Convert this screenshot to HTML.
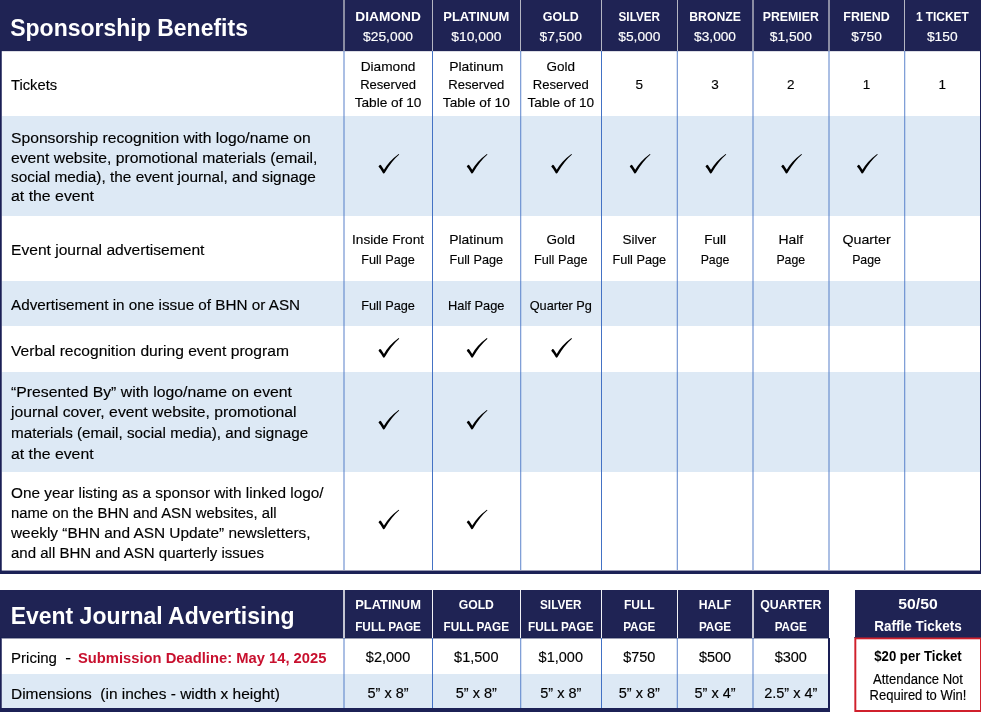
<!DOCTYPE html>
<html><head><meta charset="utf-8"><title>Sponsorship Benefits</title>
<style>
html,body{margin:0;padding:0;background:#fff;}
body{width:981px;height:712px;overflow:hidden;position:relative;}
svg{position:absolute;left:0;top:0;display:block;will-change:transform;}
text{font-family:"Liberation Sans", sans-serif;}
</style></head><body>
<svg width="981" height="712" viewBox="0 0 981 712">
<g shape-rendering="crispEdges">
<rect x="0" y="0" width="981" height="50" fill="#1f2354" />
<rect x="0" y="50" width="981" height="1" fill="#1f2354" />
<rect x="0" y="51" width="981" height="1" fill="#dcdde5" />
<rect x="2" y="116" width="978" height="100" fill="#dde9f5" />
<rect x="2" y="281" width="978" height="45" fill="#dde9f5" />
<rect x="2" y="372" width="978" height="100" fill="#dde9f5" />
<rect x="343" y="0" width="2" height="51" fill="#8a8ca2" />
<rect x="432" y="0" width="1" height="51" fill="#b4b5c2" />
<rect x="520" y="0" width="1" height="51" fill="#b4b5c2" />
<rect x="601" y="0" width="1" height="51" fill="#b4b5c2" />
<rect x="677" y="0" width="1" height="51" fill="#b4b5c2" />
<rect x="752" y="0" width="2" height="51" fill="#8a8ca2" />
<rect x="828" y="0" width="2" height="51" fill="#8a8ca2" />
<rect x="904" y="0" width="1" height="51" fill="#b4b5c2" />
<rect x="343" y="51" width="1" height="519" fill="#4472c4" fill-opacity="0.45"/>
<rect x="344" y="51" width="1" height="519" fill="#4472c4" fill-opacity="0.45"/>
<rect x="432" y="51" width="1" height="519" fill="#4472c4" />
<rect x="520" y="51" width="1" height="519" fill="#4472c4" fill-opacity="0.68"/>
<rect x="521" y="51" width="1" height="519" fill="#4472c4" fill-opacity="0.2"/>
<rect x="601" y="51" width="1" height="519" fill="#4472c4" />
<rect x="676" y="51" width="1" height="519" fill="#4472c4" fill-opacity="0.2"/>
<rect x="677" y="51" width="1" height="519" fill="#4472c4" fill-opacity="0.68"/>
<rect x="752" y="51" width="1" height="519" fill="#4472c4" fill-opacity="0.45"/>
<rect x="753" y="51" width="1" height="519" fill="#4472c4" fill-opacity="0.45"/>
<rect x="828" y="51" width="1" height="519" fill="#4472c4" fill-opacity="0.45"/>
<rect x="829" y="51" width="1" height="519" fill="#4472c4" fill-opacity="0.45"/>
<rect x="904" y="51" width="1" height="519" fill="#4472c4" fill-opacity="0.68"/>
<rect x="905" y="51" width="1" height="519" fill="#4472c4" fill-opacity="0.2"/>
<rect x="0" y="51" width="1" height="523" fill="#1a1f55" />
<rect x="1" y="51" width="1" height="523" fill="#1a1f55" fill-opacity="0.75"/>
<rect x="980" y="51" width="1" height="523" fill="#1a1f55" />
<rect x="0" y="570" width="981" height="1" fill="#1a1f55" fill-opacity="0.45"/>
<rect x="0" y="571" width="981" height="3" fill="#1c2156" />
<rect x="0" y="590" width="829" height="47" fill="#1f2354" />
<rect x="0" y="637" width="829" height="1" fill="#192050" />
<rect x="2" y="638" width="826" height="1" fill="#1f2354" fill-opacity="0.45"/>
<rect x="2" y="674" width="826" height="34" fill="#dde9f5" />
<rect x="343" y="590" width="2" height="48" fill="#c4c5d2" />
<rect x="432" y="590" width="1" height="48" fill="#f2f2f6" />
<rect x="520" y="590" width="1" height="48" fill="#f2f2f6" />
<rect x="601" y="590" width="1" height="48" fill="#f2f2f6" />
<rect x="677" y="590" width="1" height="48" fill="#f2f2f6" />
<rect x="752" y="590" width="2" height="48" fill="#c4c5d2" />
<rect x="343" y="638" width="1" height="70" fill="#4472c4" fill-opacity="0.45"/>
<rect x="344" y="638" width="1" height="70" fill="#4472c4" fill-opacity="0.45"/>
<rect x="432" y="638" width="1" height="70" fill="#4472c4" />
<rect x="520" y="638" width="1" height="70" fill="#4472c4" fill-opacity="0.68"/>
<rect x="521" y="638" width="1" height="70" fill="#4472c4" fill-opacity="0.2"/>
<rect x="601" y="638" width="1" height="70" fill="#4472c4" />
<rect x="676" y="638" width="1" height="70" fill="#4472c4" fill-opacity="0.2"/>
<rect x="677" y="638" width="1" height="70" fill="#4472c4" fill-opacity="0.68"/>
<rect x="752" y="638" width="1" height="70" fill="#4472c4" fill-opacity="0.45"/>
<rect x="753" y="638" width="1" height="70" fill="#4472c4" fill-opacity="0.45"/>
<rect x="0" y="638" width="1" height="74" fill="#1a1f55" />
<rect x="1" y="638" width="1" height="74" fill="#1a1f55" fill-opacity="0.75"/>
<rect x="828" y="638" width="2" height="74" fill="#1a1f55" />
<rect x="0" y="708" width="830" height="4" fill="#1c2156" />
<rect x="855" y="590" width="126" height="47" fill="#1f2354" />
<rect x="854" y="637" width="127" height="75" fill="#d0202c" />
<rect x="856" y="639" width="124" height="71" fill="#ffffff" />
<rect x="854" y="637" width="1" height="75" fill="#ffffff" fill-opacity="0.35"/>
<rect x="854" y="637" width="127" height="1" fill="#1f2354" fill-opacity="0.5"/>
<rect x="856" y="639" width="124" height="1" fill="#d0202c" fill-opacity="0.3"/>
<rect x="856" y="639" width="1" height="71" fill="#d0202c" fill-opacity="0.3"/>
</g>
<g>
<text x="10.2" y="35.9" font-size="23.5" fill="#ffffff" text-anchor="start" font-weight="bold" textLength="237.8" lengthAdjust="spacingAndGlyphs">Sponsorship Benefits</text>
<text x="388.05" y="20.9" font-size="13" fill="#ffffff" text-anchor="middle" font-weight="bold" textLength="65.5" lengthAdjust="spacingAndGlyphs">DIAMOND</text>
<text x="388.05" y="40.7" font-size="13.2" fill="#ffffff" text-anchor="middle" stroke="#ffffff" stroke-width="0.15" textLength="49.9" lengthAdjust="spacingAndGlyphs">$25,000</text>
<text x="476.3" y="20.9" font-size="13" fill="#ffffff" text-anchor="middle" font-weight="bold" textLength="66.1" lengthAdjust="spacingAndGlyphs">PLATINUM</text>
<text x="476.3" y="40.7" font-size="13.2" fill="#ffffff" text-anchor="middle" stroke="#ffffff" stroke-width="0.15" textLength="50.2" lengthAdjust="spacingAndGlyphs">$10,000</text>
<text x="560.8" y="20.9" font-size="13" fill="#ffffff" text-anchor="middle" font-weight="bold" textLength="36.0" lengthAdjust="spacingAndGlyphs">GOLD</text>
<text x="560.8" y="40.7" font-size="13.2" fill="#ffffff" text-anchor="middle" stroke="#ffffff" stroke-width="0.15" textLength="42.4" lengthAdjust="spacingAndGlyphs">$7,500</text>
<text x="639.3" y="20.9" font-size="13" fill="#ffffff" text-anchor="middle" font-weight="bold" textLength="41.5" lengthAdjust="spacingAndGlyphs">SILVER</text>
<text x="639.3" y="40.7" font-size="13.2" fill="#ffffff" text-anchor="middle" stroke="#ffffff" stroke-width="0.15" textLength="42.1" lengthAdjust="spacingAndGlyphs">$5,000</text>
<text x="715.05" y="20.9" font-size="13" fill="#ffffff" text-anchor="middle" font-weight="bold" textLength="51.6" lengthAdjust="spacingAndGlyphs">BRONZE</text>
<text x="715.05" y="40.7" font-size="13.2" fill="#ffffff" text-anchor="middle" stroke="#ffffff" stroke-width="0.15" textLength="41.9" lengthAdjust="spacingAndGlyphs">$3,000</text>
<text x="790.8" y="20.9" font-size="13" fill="#ffffff" text-anchor="middle" font-weight="bold" textLength="56.1" lengthAdjust="spacingAndGlyphs">PREMIER</text>
<text x="790.8" y="40.7" font-size="13.2" fill="#ffffff" text-anchor="middle" stroke="#ffffff" stroke-width="0.15" textLength="42.1" lengthAdjust="spacingAndGlyphs">$1,500</text>
<text x="866.55" y="20.9" font-size="13" fill="#ffffff" text-anchor="middle" font-weight="bold" textLength="46.4" lengthAdjust="spacingAndGlyphs">FRIEND</text>
<text x="866.55" y="40.7" font-size="13.2" fill="#ffffff" text-anchor="middle" stroke="#ffffff" stroke-width="0.15" textLength="30.5" lengthAdjust="spacingAndGlyphs">$750</text>
<text x="942.3" y="20.9" font-size="13" fill="#ffffff" text-anchor="middle" font-weight="bold" textLength="52.8" lengthAdjust="spacingAndGlyphs">1 TICKET</text>
<text x="942.3" y="40.7" font-size="13.2" fill="#ffffff" text-anchor="middle" stroke="#ffffff" stroke-width="0.15" textLength="30.7" lengthAdjust="spacingAndGlyphs">$150</text>
<text x="11" y="89.7" font-size="15.5" fill="#000" text-anchor="start" stroke="#000" stroke-width="0.15" textLength="46.1" lengthAdjust="spacingAndGlyphs">Tickets</text>
<text x="388.05" y="70.8" font-size="13.5" fill="#000" text-anchor="middle" stroke="#000" stroke-width="0.15" textLength="54.8" lengthAdjust="spacingAndGlyphs">Diamond</text>
<text x="388.05" y="88.8" font-size="13.5" fill="#000" text-anchor="middle" stroke="#000" stroke-width="0.15" textLength="55.8" lengthAdjust="spacingAndGlyphs">Reserved</text>
<text x="388.05" y="106.6" font-size="13.5" fill="#000" text-anchor="middle" stroke="#000" stroke-width="0.15" textLength="66.8" lengthAdjust="spacingAndGlyphs">Table of 10</text>
<text x="476.3" y="70.8" font-size="13.5" fill="#000" text-anchor="middle" stroke="#000" stroke-width="0.15" textLength="54.3" lengthAdjust="spacingAndGlyphs">Platinum</text>
<text x="476.3" y="88.8" font-size="13.5" fill="#000" text-anchor="middle" stroke="#000" stroke-width="0.15" textLength="55.9" lengthAdjust="spacingAndGlyphs">Reserved</text>
<text x="476.3" y="106.6" font-size="13.5" fill="#000" text-anchor="middle" stroke="#000" stroke-width="0.15" textLength="67.0" lengthAdjust="spacingAndGlyphs">Table of 10</text>
<text x="560.8" y="70.8" font-size="13.5" fill="#000" text-anchor="middle" stroke="#000" stroke-width="0.15" textLength="28.5" lengthAdjust="spacingAndGlyphs">Gold</text>
<text x="560.8" y="88.8" font-size="13.5" fill="#000" text-anchor="middle" stroke="#000" stroke-width="0.15" textLength="55.9" lengthAdjust="spacingAndGlyphs">Reserved</text>
<text x="560.8" y="106.6" font-size="13.5" fill="#000" text-anchor="middle" stroke="#000" stroke-width="0.15" textLength="66.6" lengthAdjust="spacingAndGlyphs">Table of 10</text>
<text x="639.3" y="88.8" font-size="13.5" fill="#000" text-anchor="middle" stroke="#000" stroke-width="0.15">5</text>
<text x="715.05" y="88.8" font-size="13.5" fill="#000" text-anchor="middle" stroke="#000" stroke-width="0.15">3</text>
<text x="790.8" y="88.8" font-size="13.5" fill="#000" text-anchor="middle" stroke="#000" stroke-width="0.15">2</text>
<text x="866.55" y="88.8" font-size="13.5" fill="#000" text-anchor="middle" stroke="#000" stroke-width="0.15">1</text>
<text x="942.3" y="88.8" font-size="13.5" fill="#000" text-anchor="middle" stroke="#000" stroke-width="0.15">1</text>
<text x="11" y="142.7" font-size="15.5" fill="#000" text-anchor="start" stroke="#000" stroke-width="0.15" textLength="299.7" lengthAdjust="spacingAndGlyphs">Sponsorship recognition with logo/name on</text>
<text x="11" y="162.5" font-size="15.5" fill="#000" text-anchor="start" stroke="#000" stroke-width="0.15" textLength="306.4" lengthAdjust="spacingAndGlyphs">event website, promotional materials (email,</text>
<text x="11" y="181.6" font-size="15.5" fill="#000" text-anchor="start" stroke="#000" stroke-width="0.15" textLength="304.8" lengthAdjust="spacingAndGlyphs">social media), the event journal, and signage</text>
<text x="11" y="201.2" font-size="15.5" fill="#000" text-anchor="start" stroke="#000" stroke-width="0.15" textLength="82.9" lengthAdjust="spacingAndGlyphs">at the event</text>
<text x="11" y="255.0" font-size="15.5" fill="#000" text-anchor="start" stroke="#000" stroke-width="0.15" textLength="193.4" lengthAdjust="spacingAndGlyphs">Event journal advertisement</text>
<text x="11" y="310.0" font-size="15.5" fill="#000" text-anchor="start" stroke="#000" stroke-width="0.15" textLength="289.1" lengthAdjust="spacingAndGlyphs">Advertisement in one issue of BHN or ASN</text>
<text x="11" y="355.6" font-size="15.5" fill="#000" text-anchor="start" stroke="#000" stroke-width="0.15" textLength="277.9" lengthAdjust="spacingAndGlyphs">Verbal recognition during event program</text>
<text x="11" y="396.7" font-size="15.5" fill="#000" text-anchor="start" stroke="#000" stroke-width="0.15" textLength="281.0" lengthAdjust="spacingAndGlyphs">“Presented By” with logo/name on event</text>
<text x="11" y="417.2" font-size="15.5" fill="#000" text-anchor="start" stroke="#000" stroke-width="0.15" textLength="285.6" lengthAdjust="spacingAndGlyphs">journal cover, event website, promotional</text>
<text x="11" y="438.0" font-size="15.5" fill="#000" text-anchor="start" stroke="#000" stroke-width="0.15" textLength="297.2" lengthAdjust="spacingAndGlyphs">materials (email, social media), and signage</text>
<text x="11" y="459.2" font-size="15.5" fill="#000" text-anchor="start" stroke="#000" stroke-width="0.15" textLength="82.6" lengthAdjust="spacingAndGlyphs">at the event</text>
<text x="11" y="497.5" font-size="15.5" fill="#000" text-anchor="start" stroke="#000" stroke-width="0.15" textLength="312.6" lengthAdjust="spacingAndGlyphs">One year listing as a sponsor with linked logo/</text>
<text x="11" y="517.6" font-size="15.5" fill="#000" text-anchor="start" stroke="#000" stroke-width="0.15" textLength="265.6" lengthAdjust="spacingAndGlyphs">name on the BHN and ASN websites, all</text>
<text x="11" y="538.0" font-size="15.5" fill="#000" text-anchor="start" stroke="#000" stroke-width="0.15" textLength="299.6" lengthAdjust="spacingAndGlyphs">weekly “BHN and ASN Update” newsletters,</text>
<text x="11" y="558.1" font-size="15.5" fill="#000" text-anchor="start" stroke="#000" stroke-width="0.15" textLength="253.0" lengthAdjust="spacingAndGlyphs">and all BHN and ASN quarterly issues</text>
<text x="388.05" y="244.0" font-size="13.5" fill="#000" text-anchor="middle" stroke="#000" stroke-width="0.15" textLength="72.1" lengthAdjust="spacingAndGlyphs">Inside Front</text>
<text x="388.05" y="263.7" font-size="13.5" fill="#000" text-anchor="middle" stroke="#000" stroke-width="0.15" textLength="53.6" lengthAdjust="spacingAndGlyphs">Full Page</text>
<text x="476.3" y="244.0" font-size="13.5" fill="#000" text-anchor="middle" stroke="#000" stroke-width="0.15" textLength="54.3" lengthAdjust="spacingAndGlyphs">Platinum</text>
<text x="476.3" y="263.7" font-size="13.5" fill="#000" text-anchor="middle" stroke="#000" stroke-width="0.15" textLength="53.6" lengthAdjust="spacingAndGlyphs">Full Page</text>
<text x="560.8" y="244.0" font-size="13.5" fill="#000" text-anchor="middle" stroke="#000" stroke-width="0.15" textLength="28.5" lengthAdjust="spacingAndGlyphs">Gold</text>
<text x="560.8" y="263.7" font-size="13.5" fill="#000" text-anchor="middle" stroke="#000" stroke-width="0.15" textLength="53.6" lengthAdjust="spacingAndGlyphs">Full Page</text>
<text x="639.3" y="244.0" font-size="13.5" fill="#000" text-anchor="middle" stroke="#000" stroke-width="0.15" textLength="33.8" lengthAdjust="spacingAndGlyphs">Silver</text>
<text x="639.3" y="263.7" font-size="13.5" fill="#000" text-anchor="middle" stroke="#000" stroke-width="0.15" textLength="53.8" lengthAdjust="spacingAndGlyphs">Full Page</text>
<text x="715.05" y="244.0" font-size="13.5" fill="#000" text-anchor="middle" stroke="#000" stroke-width="0.15" textLength="21.8" lengthAdjust="spacingAndGlyphs">Full</text>
<text x="715.05" y="263.7" font-size="13.5" fill="#000" text-anchor="middle" stroke="#000" stroke-width="0.15" textLength="28.8" lengthAdjust="spacingAndGlyphs">Page</text>
<text x="790.8" y="244.0" font-size="13.5" fill="#000" text-anchor="middle" stroke="#000" stroke-width="0.15" textLength="24.8" lengthAdjust="spacingAndGlyphs">Half</text>
<text x="790.8" y="263.7" font-size="13.5" fill="#000" text-anchor="middle" stroke="#000" stroke-width="0.15" textLength="28.8" lengthAdjust="spacingAndGlyphs">Page</text>
<text x="866.55" y="244.0" font-size="13.5" fill="#000" text-anchor="middle" stroke="#000" stroke-width="0.15" textLength="48.2" lengthAdjust="spacingAndGlyphs">Quarter</text>
<text x="866.55" y="263.7" font-size="13.5" fill="#000" text-anchor="middle" stroke="#000" stroke-width="0.15" textLength="28.8" lengthAdjust="spacingAndGlyphs">Page</text>
<text x="388.05" y="309.9" font-size="13.5" fill="#000" text-anchor="middle" stroke="#000" stroke-width="0.15" textLength="53.8" lengthAdjust="spacingAndGlyphs">Full Page</text>
<text x="476.3" y="309.9" font-size="13.5" fill="#000" text-anchor="middle" stroke="#000" stroke-width="0.15" textLength="56.4" lengthAdjust="spacingAndGlyphs">Half Page</text>
<text x="560.8" y="309.9" font-size="13.5" fill="#000" text-anchor="middle" stroke="#000" stroke-width="0.15" textLength="62.3" lengthAdjust="spacingAndGlyphs">Quarter Pg</text>
<text x="10.7" y="623.9" font-size="23.5" fill="#ffffff" text-anchor="start" font-weight="bold" textLength="283.8" lengthAdjust="spacingAndGlyphs">Event Journal Advertising</text>
<text x="388.05" y="609.1" font-size="13" fill="#ffffff" text-anchor="middle" font-weight="bold" textLength="65.8" lengthAdjust="spacingAndGlyphs">PLATINUM</text>
<text x="388.05" y="631.1" font-size="13" fill="#ffffff" text-anchor="middle" font-weight="bold" textLength="65.8" lengthAdjust="spacingAndGlyphs">FULL PAGE</text>
<text x="476.3" y="609.1" font-size="13" fill="#ffffff" text-anchor="middle" font-weight="bold" textLength="35.2" lengthAdjust="spacingAndGlyphs">GOLD</text>
<text x="476.3" y="631.1" font-size="13" fill="#ffffff" text-anchor="middle" font-weight="bold" textLength="65.5" lengthAdjust="spacingAndGlyphs">FULL PAGE</text>
<text x="560.8" y="609.1" font-size="13" fill="#ffffff" text-anchor="middle" font-weight="bold" textLength="41.5" lengthAdjust="spacingAndGlyphs">SILVER</text>
<text x="560.8" y="631.1" font-size="13" fill="#ffffff" text-anchor="middle" font-weight="bold" textLength="65.5" lengthAdjust="spacingAndGlyphs">FULL PAGE</text>
<text x="639.3" y="609.1" font-size="13" fill="#ffffff" text-anchor="middle" font-weight="bold" textLength="30.8" lengthAdjust="spacingAndGlyphs">FULL</text>
<text x="639.3" y="631.1" font-size="13" fill="#ffffff" text-anchor="middle" font-weight="bold" textLength="32.2" lengthAdjust="spacingAndGlyphs">PAGE</text>
<text x="715.05" y="609.1" font-size="13" fill="#ffffff" text-anchor="middle" font-weight="bold" textLength="32.5" lengthAdjust="spacingAndGlyphs">HALF</text>
<text x="715.05" y="631.1" font-size="13" fill="#ffffff" text-anchor="middle" font-weight="bold" textLength="32.2" lengthAdjust="spacingAndGlyphs">PAGE</text>
<text x="790.8" y="609.1" font-size="13" fill="#ffffff" text-anchor="middle" font-weight="bold" textLength="61.1" lengthAdjust="spacingAndGlyphs">QUARTER</text>
<text x="790.8" y="631.1" font-size="13" fill="#ffffff" text-anchor="middle" font-weight="bold" textLength="32.2" lengthAdjust="spacingAndGlyphs">PAGE</text>
<text x="11" y="662.8" font-size="15.5" fill="#000" text-anchor="start" stroke="#000" stroke-width="0.15" textLength="46.0" lengthAdjust="spacingAndGlyphs">Pricing</text>
<text x="65.3" y="662.8" font-size="15.5" fill="#000" text-anchor="start" stroke="#000" stroke-width="0.15" textLength="5.8" lengthAdjust="spacingAndGlyphs">-</text>
<text x="78" y="662.8" font-size="15.5" fill="#c8102e" text-anchor="start" font-weight="bold" textLength="248.4" lengthAdjust="spacingAndGlyphs">Submission Deadline: May 14, 2025</text>
<text x="11" y="698.9" font-size="15.5" fill="#000" text-anchor="start" stroke="#000" stroke-width="0.15" textLength="268.8" lengthAdjust="spacingAndGlyphs">Dimensions  (in inches - width x height)</text>
<text x="388.05" y="661.7" font-size="14.5" fill="#000" text-anchor="middle" stroke="#000" stroke-width="0.15">$2,000</text>
<text x="388.05" y="697.8" font-size="14.5" fill="#000" text-anchor="middle" stroke="#000" stroke-width="0.15">5” x 8”</text>
<text x="476.3" y="661.7" font-size="14.5" fill="#000" text-anchor="middle" stroke="#000" stroke-width="0.15">$1,500</text>
<text x="476.3" y="697.8" font-size="14.5" fill="#000" text-anchor="middle" stroke="#000" stroke-width="0.15">5” x 8”</text>
<text x="560.8" y="661.7" font-size="14.5" fill="#000" text-anchor="middle" stroke="#000" stroke-width="0.15">$1,000</text>
<text x="560.8" y="697.8" font-size="14.5" fill="#000" text-anchor="middle" stroke="#000" stroke-width="0.15">5” x 8”</text>
<text x="639.3" y="661.7" font-size="14.5" fill="#000" text-anchor="middle" stroke="#000" stroke-width="0.15">$750</text>
<text x="639.3" y="697.8" font-size="14.5" fill="#000" text-anchor="middle" stroke="#000" stroke-width="0.15">5” x 8”</text>
<text x="715.05" y="661.7" font-size="14.5" fill="#000" text-anchor="middle" stroke="#000" stroke-width="0.15">$500</text>
<text x="715.05" y="697.8" font-size="14.5" fill="#000" text-anchor="middle" stroke="#000" stroke-width="0.15">5” x 4”</text>
<text x="790.8" y="661.7" font-size="14.5" fill="#000" text-anchor="middle" stroke="#000" stroke-width="0.15">$300</text>
<text x="790.8" y="697.8" font-size="14.5" fill="#000" text-anchor="middle" stroke="#000" stroke-width="0.15">2.5” x 4”</text>
<text x="918" y="608.5" font-size="14" fill="#ffffff" text-anchor="middle" font-weight="bold" textLength="39.4" lengthAdjust="spacingAndGlyphs">50/50</text>
<text x="918" y="630.8" font-size="14" fill="#ffffff" text-anchor="middle" font-weight="bold" textLength="87.4" lengthAdjust="spacingAndGlyphs">Raffle Tickets</text>
<text x="918" y="661.2" font-size="14" fill="#000" text-anchor="middle" font-weight="bold" textLength="87.4" lengthAdjust="spacingAndGlyphs">$20 per Ticket</text>
<text x="918" y="684.3" font-size="14" fill="#000" text-anchor="middle" stroke="#000" stroke-width="0.15" textLength="90.0" lengthAdjust="spacingAndGlyphs">Attendance Not</text>
<text x="918" y="699.7" font-size="14" fill="#000" text-anchor="middle" stroke="#000" stroke-width="0.15" textLength="96.8" lengthAdjust="spacingAndGlyphs">Required to Win!</text>
</g>
<g>
<path transform="translate(370.15,145.00) scale(0.05618)" d="M148,382 L170,354 Q185,349 194,361 L246,440 Q330,290 507,158 L518,170 Q385,282 258,498 Q242,516 227,497 Q192,428 148,382 Z" fill="#000"/>
<path transform="translate(458.40,145.00) scale(0.05618)" d="M148,382 L170,354 Q185,349 194,361 L246,440 Q330,290 507,158 L518,170 Q385,282 258,498 Q242,516 227,497 Q192,428 148,382 Z" fill="#000"/>
<path transform="translate(542.90,145.00) scale(0.05618)" d="M148,382 L170,354 Q185,349 194,361 L246,440 Q330,290 507,158 L518,170 Q385,282 258,498 Q242,516 227,497 Q192,428 148,382 Z" fill="#000"/>
<path transform="translate(621.40,145.00) scale(0.05618)" d="M148,382 L170,354 Q185,349 194,361 L246,440 Q330,290 507,158 L518,170 Q385,282 258,498 Q242,516 227,497 Q192,428 148,382 Z" fill="#000"/>
<path transform="translate(697.15,145.00) scale(0.05618)" d="M148,382 L170,354 Q185,349 194,361 L246,440 Q330,290 507,158 L518,170 Q385,282 258,498 Q242,516 227,497 Q192,428 148,382 Z" fill="#000"/>
<path transform="translate(772.90,145.00) scale(0.05618)" d="M148,382 L170,354 Q185,349 194,361 L246,440 Q330,290 507,158 L518,170 Q385,282 258,498 Q242,516 227,497 Q192,428 148,382 Z" fill="#000"/>
<path transform="translate(848.65,145.00) scale(0.05618)" d="M148,382 L170,354 Q185,349 194,361 L246,440 Q330,290 507,158 L518,170 Q385,282 258,498 Q242,516 227,497 Q192,428 148,382 Z" fill="#000"/>
<path transform="translate(370.15,329.20) scale(0.05618)" d="M148,382 L170,354 Q185,349 194,361 L246,440 Q330,290 507,158 L518,170 Q385,282 258,498 Q242,516 227,497 Q192,428 148,382 Z" fill="#000"/>
<path transform="translate(458.40,329.20) scale(0.05618)" d="M148,382 L170,354 Q185,349 194,361 L246,440 Q330,290 507,158 L518,170 Q385,282 258,498 Q242,516 227,497 Q192,428 148,382 Z" fill="#000"/>
<path transform="translate(542.90,329.20) scale(0.05618)" d="M148,382 L170,354 Q185,349 194,361 L246,440 Q330,290 507,158 L518,170 Q385,282 258,498 Q242,516 227,497 Q192,428 148,382 Z" fill="#000"/>
<path transform="translate(370.15,401.00) scale(0.05618)" d="M148,382 L170,354 Q185,349 194,361 L246,440 Q330,290 507,158 L518,170 Q385,282 258,498 Q242,516 227,497 Q192,428 148,382 Z" fill="#000"/>
<path transform="translate(370.15,500.80) scale(0.05618)" d="M148,382 L170,354 Q185,349 194,361 L246,440 Q330,290 507,158 L518,170 Q385,282 258,498 Q242,516 227,497 Q192,428 148,382 Z" fill="#000"/>
<path transform="translate(458.40,401.00) scale(0.05618)" d="M148,382 L170,354 Q185,349 194,361 L246,440 Q330,290 507,158 L518,170 Q385,282 258,498 Q242,516 227,497 Q192,428 148,382 Z" fill="#000"/>
<path transform="translate(458.40,500.80) scale(0.05618)" d="M148,382 L170,354 Q185,349 194,361 L246,440 Q330,290 507,158 L518,170 Q385,282 258,498 Q242,516 227,497 Q192,428 148,382 Z" fill="#000"/>
</g>
</svg>
</body></html>
